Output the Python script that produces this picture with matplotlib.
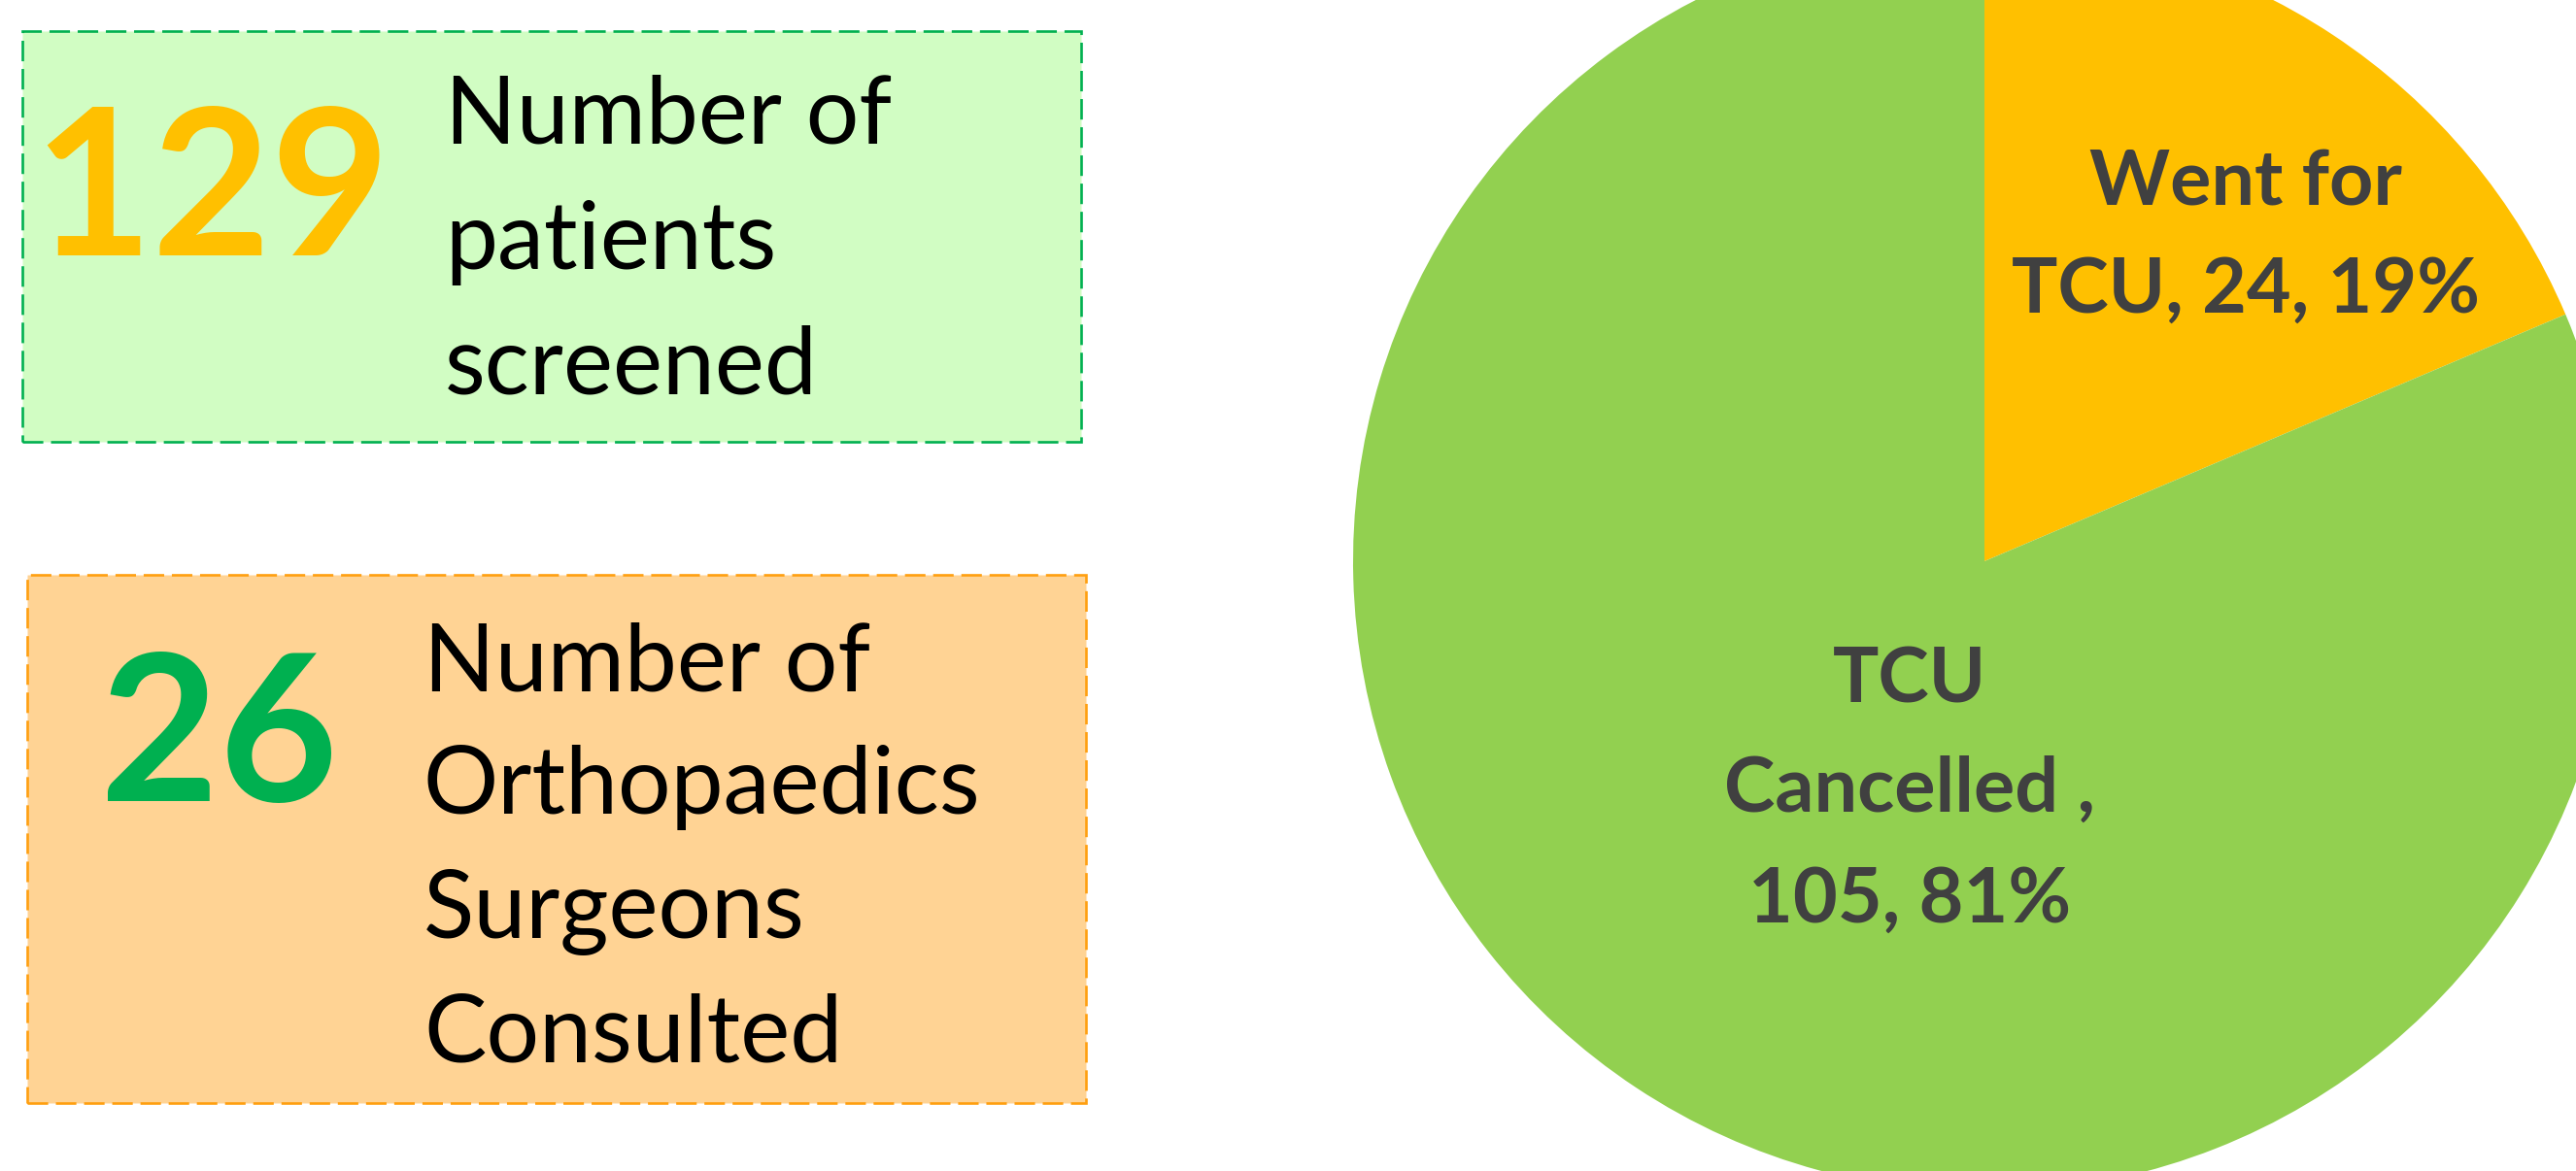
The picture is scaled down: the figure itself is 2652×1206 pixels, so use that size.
import matplotlib
matplotlib.use("Agg")
import matplotlib.pyplot as plt
from matplotlib.patches import Rectangle

# ---- data ----
pie_categories = ["Went for TCU", "TCU Cancelled "]
pie_values = [24, 105]
pie_colors = ["#FFC000", "#92D050"]
pie_label_lines = [["Went for", "TCU, {v}, {p}%"], ["TCU", "Cancelled ,", "{v}, {p}%"]]

stat_values = [129, 26]
stat_labels = [["Number of", "patients", "screened"],
               ["Number of", "Orthopaedics", "Surgeons", "Consulted"]]
stat_num_colors = ["#FFC000", "#00B050"]
stat_fill = ["#D1FDC3", "#FFD394"]
stat_edge = ["#00B050", "#FF9F10"]

W, H = 2652, 1206
DPI = 100
FONT = ["Lato", "DejaVu Sans"]

fig = plt.figure(figsize=(W / DPI, H / DPI), dpi=DPI)
ax = fig.add_axes([0, 0, 1, 1])
ax.set_xlim(0, W)
ax.set_ylim(0, H)
ax.set_aspect("equal")
ax.axis("off")

def Y(ypx):
    return H - ypx

# ---- stat boxes ----
boxes = [(23, 32, 1113, 455), (28, 592, 1118, 1136)]
num_pos = [(34, 263), (103, 825)]
text_x = [458, 436]
text_baselines = [[148, 277, 405], [711, 838, 966, 1094]]
for i in range(2):
    x0, y0, x1, y1 = boxes[i]
    rect = Rectangle((x0, Y(y1)), x1 - x0, y1 - y0, facecolor=stat_fill[i],
                     edgecolor=stat_edge[i], linewidth=1.9,
                     linestyle=(0, (8, 3)), zorder=1)
    ax.add_patch(rect)
    ax.text(num_pos[i][0], Y(num_pos[i][1]), str(stat_values[i]),
            family=FONT, fontweight="bold", fontsize=152,
            color=stat_num_colors[i], ha="left", va="baseline", zorder=3)
    for line, yb in zip(stat_labels[i], text_baselines[i]):
        ax.text(text_x[i], Y(yb), line, family=FONT, fontsize=69.5,
                color="black", ha="left", va="baseline", zorder=3)

# ---- pie ----
total = sum(pie_values)
ax.pie(pie_values, colors=pie_colors, startangle=90, counterclock=False,
       center=(2043, Y(578)), radius=650, frame=True,
       wedgeprops=dict(linewidth=0))
ax.set_xlim(0, W)
ax.set_ylim(0, H)
ax.axis("off")

label_pos = [(2312, [211, 322]), (1966, [724, 836, 950])]
for i in range(2):
    v = pie_values[i]
    p = round(100 * v / total)
    cx, bls = label_pos[i]
    for line, yb in zip(pie_label_lines[i], bls):
        ax.text(cx, Y(yb), line.format(v=v, p=p), family=FONT,
                fontweight="bold", fontsize=57, color="#404040",
                ha="center", va="baseline", zorder=4)

fig.savefig("out.png", dpi=DPI)
